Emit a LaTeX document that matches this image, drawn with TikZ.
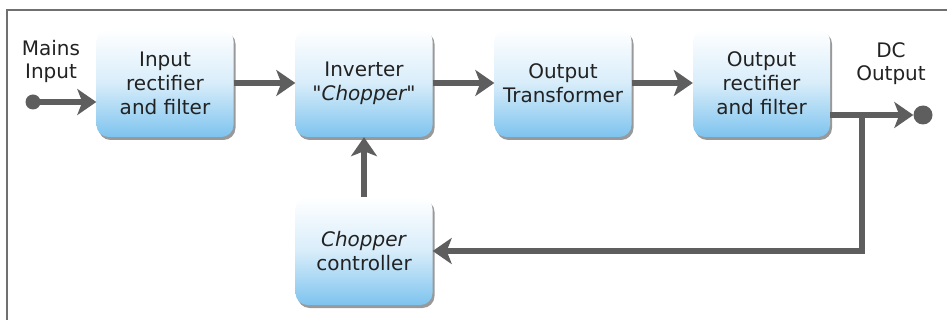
\documentclass[tikz,border=0pt]{standalone}
\usepackage{fontspec}
\setmainfont{DejaVu Sans}[Ligatures=TeXOff]
\usetikzlibrary{arrows.meta,shadows}
\definecolor{boxbot}{HTML}{7DC3EE}
\definecolor{arrc}{HTML}{5E5E5E}
\definecolor{txtc}{HTML}{222222}
\definecolor{framec}{HTML}{707070}
\begin{document}
\begin{tikzpicture}[x=1pt,y=-1pt,
  blk/.style={rectangle, rounded corners=12pt, minimum width=137pt, minimum height=108pt,
    top color=white, bottom color=boxbot, middle color=boxbot!30,
    drop shadow={shadow xshift=2pt,shadow yshift=-3pt,opacity=0.4,fill=black},
    align=center, font=\fontsize{20}{24}\selectfont, text=txtc, inner sep=0pt},
  lbl/.style={align=center, font=\fontsize{20}{23}\selectfont, text=txtc, inner sep=0pt},
  conn/.style={draw=arrc, line width=6pt, -{Stealth[length=19pt,width=26pt,inset=5pt]}},
  dotn/.style={circle, fill=arrc, inner sep=0pt}]
\useasboundingbox (0,0) rectangle (947,320);
\draw[framec, line width=1.5pt] (7,320) -- (7,10) -- (947,10);

\node[blk] (b1) at (165,83) {Input\\rectifier\\and filter};
\node[blk] (b2) at (364,83) {Inverter\\\textit{"Chopper"}};
\node[blk] (b3) at (563,83) {Output\\Transformer};
\node[blk] (b4) at (761.5,83) {Output\\rectifier\\and filter};
\node[blk] (b5) at (364,251) {\textit{Chopper}\\controller};

\node[lbl] (mains) at (51,61) {Mains\\Input};
\node[lbl] (dc) at (891,64) {DC\\Output};

\node[dotn, minimum size=15pt] (mdot) at (33,102) {};
\node[dotn, minimum size=19pt] (odot) at (923,115) {};
\coordinate (tap) at (862,115);

\draw[conn] (mdot.center) -- (b1.west |- mdot);
\draw[conn] (b1.east) -- (b2.west);
\draw[conn] (b2.east) -- (b3.west);
\draw[conn] (b3.east) -- (b4.west);
\draw[conn] (b4.east |- tap) -- (odot.west);
\draw[conn] (tap) -- (tap |- b5.east) -- (b5.east);
\draw[conn] (b5.north) -- (b2.south);
\end{tikzpicture}
\end{document}
